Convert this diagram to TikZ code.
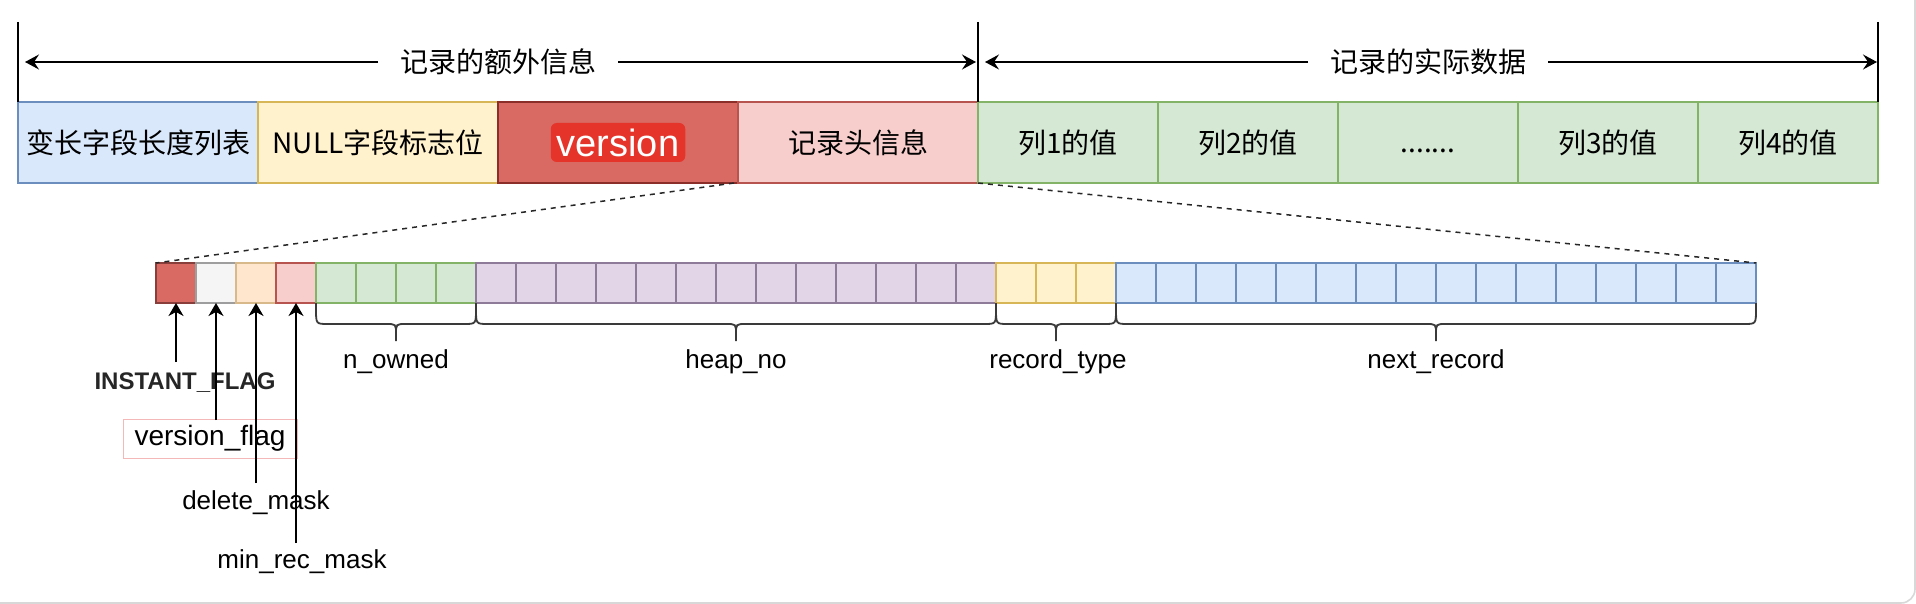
\documentclass[tikz,border=0pt]{standalone}
\usepackage{fontspec}
\setmainfont{Liberation Sans}
\newfontfamily\cjk{Noto Sans CJK SC}
\usetikzlibrary{arrows.meta,calc}

\definecolor{blueF}{HTML}{DAE8FC}\definecolor{blueS}{HTML}{6C8EBF}
\definecolor{yelF}{HTML}{FFF2CC}\definecolor{yelS}{HTML}{D6B656}
\definecolor{redF}{HTML}{D86A63}\definecolor{redS}{HTML}{8B2E2A}
\definecolor{pinkF}{HTML}{F8CECC}\definecolor{pinkS}{HTML}{B85450}
\definecolor{grnF}{HTML}{D5E8D4}\definecolor{grnS}{HTML}{82B366}
\definecolor{purF}{HTML}{E1D5E7}\definecolor{purS}{HTML}{8E7A99}
\definecolor{gryF}{HTML}{F5F5F5}\definecolor{gryS}{HTML}{9E9E9E}
\definecolor{orgF}{HTML}{FFE6CC}\definecolor{orgS}{HTML}{D7B98A}
\definecolor{hlred}{HTML}{E5352B}
\definecolor{frameC}{HTML}{D8D8D8}
\definecolor{braceC}{HTML}{3A3A3A}
\definecolor{vfbox}{HTML}{F4B8B8}

\newcommand\BitBrace[2]{%
  \coordinate (bl) at (#1);
  \coordinate (br) at (#2);
  \coordinate (bm) at ($(bl)!0.5!(br)$);
  \draw[bracestyle] (bl) -- ([shift={(0,6)}]bl) .. controls ([shift={(0,21)}]bl) .. ([shift={(12,21)}]bl)
     -- ([shift={(-10,21)}]bm) .. controls ([shift={(0,21)}]bm) .. ([shift={(0,31)}]bm) -- ([shift={(0,38)}]bm);
  \draw[bracestyle] (br) -- ([shift={(0,6)}]br) .. controls ([shift={(0,21)}]br) .. ([shift={(-12,21)}]br)
     -- ([shift={(10,21)}]bm) .. controls ([shift={(0,21)}]bm) .. ([shift={(0,31)}]bm);
}

\begin{document}
\begin{tikzpicture}[x=0.5pt,y=-0.5pt,
  every node/.style={inner sep=0pt, outer sep=0pt},
  topbox/.style={draw, line width=0.75pt, minimum width=120pt, minimum height=40.5pt,
     anchor=north west, font=\cjk\fontsize{14}{16}\selectfont},
  databox/.style={topbox, minimum width=90pt, fill=grnF, draw=grnS},
  verhl/.style={fill=hlred, text=white, rounded corners=3pt, inner xsep=3pt,
     minimum height=19.5pt, font=\fontsize{19}{21}\selectfont},
  toplabel/.style={font=\cjk\fontsize{14}{16}\selectfont, inner xsep=11pt},
  toparrow/.style={draw, line width=0.7pt, -{Stealth[length=7pt,width=7.5pt,inset=2.5pt]}},
  vline/.style={draw, line width=0.7pt},
  bit/.style={draw, line width=0.65pt, minimum width=20pt, minimum height=20pt, anchor=north west},
  bitred/.style={bit, fill=redF, draw=redS!80!gray},
  bitgray/.style={bit, fill=gryF, draw=gryS},
  bitorg/.style={bit, fill=orgF, draw=orgS},
  bitpink/.style={bit, fill=pinkF, draw=pinkS},
  bitgrn/.style={bit, fill=grnF, draw=grnS},
  bitpur/.style={bit, fill=purF, draw=purS},
  bityel/.style={bit, fill=yelF, draw=yelS},
  bitblue/.style={bit, fill=blueF, draw=blueS},
  dashline/.style={draw=black!85, line width=0.75pt, dash pattern=on 2.5pt off 2.5pt},
  bracestyle/.style={draw=braceC, line width=0.9pt},
  blabel/.style={font=\fontsize{13}{15}\selectfont},
  uparrow/.style={draw, line width=0.8pt, -{Stealth[length=6.5pt,width=7.5pt,inset=2pt]}},
  framed/.style={draw=frameC, line width=0.8pt, rounded corners=7pt}
]
\useasboundingbox (0,0) rectangle (1916,604);
\draw[framed] (-20,-20) rectangle (1915,603);

% top row
\node[topbox, fill=blueF, draw=blueS] (b1) at (18,102) {变长字段长度列表};
\node[topbox, fill=yelF, draw=yelS] (b2) at (258,102) {NULL字段标志位};
\node[topbox, fill=redF, draw=redS] (b3) at (498,102) {};
\node[verhl] (ver) at (b3.center) {version};
\node[topbox, fill=pinkF, draw=pinkS] (b4) at (738,102) {记录头信息};
\node[databox] (d1) at (978,102) {列1的值};
\node[databox] (d2) at (1158,102) {列2的值};
\node[databox] (d3) at (1338,102) {\vphantom{列}.......};
\node[databox] (d4) at (1518,102) {列3的值};
\node[databox] (d5) at (1698,102) {列4的值};

% top dimension lines
\coordinate (t1) at (18,22);
\coordinate (t2) at (978,22);
\coordinate (t3) at (1878,22);
\draw[vline] (t1) -- (b1.north west);
\draw[vline] (t2) -- (d1.north west);
\draw[vline] (t3) -- (d5.north east);

\node[toplabel] (L1) at (498,62) {记录的额外信息};
\coordinate (L1a) at (25,62);
\coordinate (L1b) at (976,62);
\draw[toparrow] (L1.west) -- (L1a);
\draw[toparrow] (L1.east) -- (L1b);
\node[toplabel] (L2) at (1428,62) {记录的实际数据};
\coordinate (L2a) at (985,62);
\coordinate (L2b) at (1877,62);
\draw[toparrow] (L2.west) -- (L2a);
\draw[toparrow] (L2.east) -- (L2b);

% bits
\node[bitred] (bit0) at (156,263) {};
\node[bitgray] (bit1) at (196,263) {};
\node[bitorg] (bit2) at (236,263) {};
\node[bitpink] (bit3) at (276,263) {};
\foreach \i in {4,...,7} {\node[bitgrn] (bit\i) at ({156+40*\i},263) {};}
\foreach \i in {8,...,20} {\node[bitpur] (bit\i) at ({156+40*\i},263) {};}
\foreach \i in {21,...,23} {\node[bityel] (bit\i) at ({156+40*\i},263) {};}
\foreach \i in {24,...,39} {\node[bitblue] (bit\i) at ({156+40*\i},263) {};}

% zoom lines
\draw[dashline] ([xshift=-2pt]b3.south east) -- (bit0.north west);
\draw[dashline] (b4.south east) -- (bit39.north east);

% braces
\BitBrace{bit4.south west}{bit7.south east}
\BitBrace{bit8.south west}{bit20.south east}
\BitBrace{bit21.south west}{bit23.south east}
\BitBrace{bit24.south west}{bit39.south east}

\node[blabel] (nown) at (396,362) {n\_owned};
\node[blabel] (heap) at (736,362) {heap\_no};
\node[blabel] (rtype) at (1058,362) {record\_type};
\node[blabel] (nrec) at (1436,362) {next\_record};

% flag labels
\node[font=\bfseries\fontsize{12}{14}\selectfont, text=black!85] (inst) at (185,383) {INSTANT\_FLAG};
\node[draw=vfbox, line width=0.5pt, minimum width=87pt, minimum height=19.5pt,
      font=\fontsize{14}{16}\selectfont] (vflag) at (210,438.5) {version\_flag};
\node[blabel] (dmask) at (256,503) {delete\_mask};
\node[blabel] (mmask) at (302,562) {min\_rec\_mask};

\coordinate (e0) at (176,362);
\coordinate (e1) at (216,420);
\coordinate (e2) at (256,483);
\coordinate (e3) at (296,543);
\draw[uparrow] (e0) -- (bit0.south);
\draw[uparrow] (e1) -- (bit1.south);
\draw[uparrow] (e2) -- (bit2.south);
\draw[uparrow] (e3) -- (bit3.south);
\end{tikzpicture}
\end{document}
